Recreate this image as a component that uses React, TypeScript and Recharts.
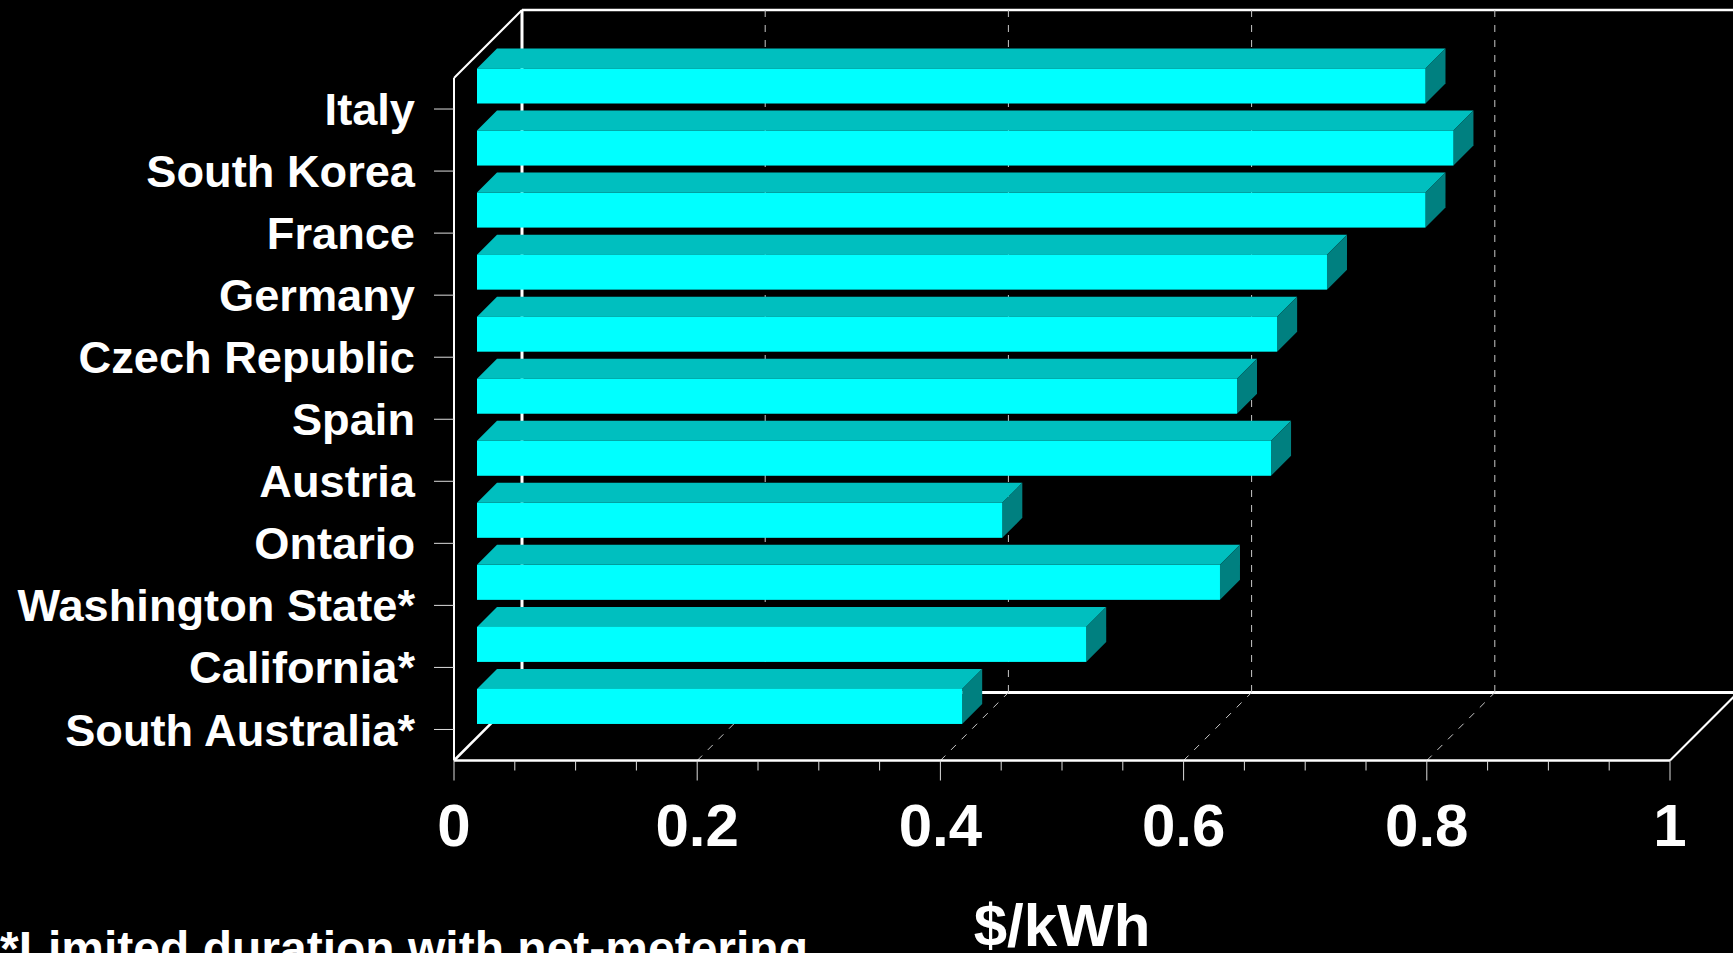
import React from 'react';
import { BarChart, Bar, XAxis, YAxis, ReferenceArea, ReferenceLine } from 'recharts';

const categories = ['Italy', 'South Korea', 'France', 'Germany', 'Czech Republic', 'Spain', 'Austria', 'Ontario', 'Washington State*', 'California*', 'South Australia*'];
const values = [0.78, 0.803, 0.78, 0.699, 0.658, 0.625, 0.653, 0.432, 0.611, 0.501, 0.399];
const xTicks = [0, 0.05, 0.1, 0.15, 0.2, 0.25, 0.3, 0.35, 0.4, 0.45, 0.5, 0.55, 0.6, 0.65, 0.7, 0.75, 0.8, 0.85, 0.9, 0.95, 1];
const majorTicks = [0, 0.2, 0.4, 0.6, 0.8, 1];
const gridTicks = [0.2, 0.4, 0.6, 0.8];
const data = categories.map((name, i) => ({ name, value: values[i] }));

const W = 1733, H = 953;
const FONT = '"Liberation Sans", Arial, sans-serif';
const DEPTH = 68;
const BAR_DX = 23, BAR_DY = -23.5, BAR_DEPTH = 20;

function Bar3D(props: any) {
  const { x, y, width, height } = props;
  const l = x + BAR_DX, t = y + BAR_DY, r = l + width, b = t + height;
  const d = BAR_DEPTH;
  return (
    <g>
      <polygon points={`${l},${t} ${l + d},${t - d} ${r + d},${t - d} ${r},${t}`} fill="#00BFBF" />
      <polygon points={`${r},${t} ${r + d},${t - d} ${r + d},${b - d} ${r},${b}`} fill="#008080" />
      <rect x={l} y={t} width={width} height={height} fill="#00FFFF" />
    </g>
  );
}

function Frame(props: any) {
  const { x, y, width, height } = props;
  const r = x + width, b = y + height;
  return (
    <g fill="none" stroke="#fff">
      <line x1={x + DEPTH} y1={y - DEPTH} x2={x + DEPTH} y2={b - DEPTH} strokeWidth={3} />
      <line x1={x + DEPTH} y1={y - DEPTH} x2={r + DEPTH} y2={y - DEPTH} strokeWidth={2.5} />
      <line x1={x + DEPTH} y1={b - DEPTH} x2={r + DEPTH} y2={b - DEPTH} strokeWidth={3} />
      <line x1={x} y1={y} x2={x + DEPTH} y2={y - DEPTH} strokeWidth={2} />
      <line x1={x} y1={b} x2={x + DEPTH} y2={b - DEPTH} strokeWidth={2.5} />
      <line x1={r} y1={b} x2={r + DEPTH} y2={b - DEPTH} strokeWidth={2} />
    </g>
  );
}

function GridLine3D(props: any) {
  const x = props.x1;
  const top = Math.min(props.y1, props.y2), bottom = Math.max(props.y1, props.y2);
  return (
    <g fill="none" stroke="#c8c8c8" strokeWidth={1} strokeDasharray="7 8">
      <line x1={x + DEPTH} y1={top - DEPTH} x2={x + DEPTH} y2={bottom - DEPTH} />
      <line x1={x} y1={bottom} x2={x + DEPTH} y2={bottom - DEPTH} />
    </g>
  );
}

function XTick(props: any) {
  const { x, y, payload } = props;
  const major = majorTicks.includes(payload.value);
  return (
    <g>
      <line x1={x} y1={y} x2={x} y2={y + (major ? 20 : 10)} stroke="#ddd" strokeWidth={1} />
      {major && (
        <text x={x} y={y + 85.5} textAnchor="middle" fill="#fff" fontFamily={FONT} fontWeight="bold" fontSize={60}>
          {payload.value}
        </text>
      )}
    </g>
  );
}

export default function App() {
  return (
    <div style={{ position: 'fixed', left: 0, top: 0, width: W, height: H, background: '#000', overflow: 'hidden' }}>
      <BarChart
        width={W}
        height={H}
        data={data}
        layout="vertical"
        margin={{ top: 78, right: 63, bottom: 0, left: 0 }}
        barCategoryGap={0}
      >
        <XAxis
          type="number"
          domain={[0, 1]}
          ticks={xTicks}
          interval={0}
          height={192.5}
          tickSize={0}
          tickMargin={0}
          tickLine={false}
          tick={<XTick />}
          axisLine={{ stroke: '#fff', strokeWidth: 2.5 }}
          label={{ value: '$/kWh', position: 'insideBottom', offset: 7, fill: '#fff', fontFamily: FONT, fontWeight: 'bold', fontSize: 60 }}
        />
        <YAxis
          type="category"
          dataKey="name"
          width={454}
          interval={0}
          tickSize={20}
          tickMargin={19}
          tickLine={{ stroke: '#ddd', strokeWidth: 1 }}
          tick={{ fill: '#fff', fontFamily: FONT, fontWeight: 'bold', fontSize: 45.2 }}
          axisLine={{ stroke: '#fff', strokeWidth: 2 }}
        />
        <ReferenceArea x1={0} x2={1} shape={<Frame />} ifOverflow="visible" zIndex={50} />
        {gridTicks.map((t) => (
          <ReferenceLine key={t} x={t} shape={<GridLine3D />} ifOverflow="visible" zIndex={50} />
        ))}
        <Bar dataKey="value" barSize={35} shape={<Bar3D />} isAnimationActive={false} zIndex={300} />
      </BarChart>
      <div style={{ position: 'absolute', left: 0, top: 920, fontFamily: FONT, fontWeight: 'bold', fontSize: 48, lineHeight: '58px', color: '#fff', whiteSpace: 'nowrap' }}>
        *Limited duration with net-metering
      </div>
    </div>
  );
}
